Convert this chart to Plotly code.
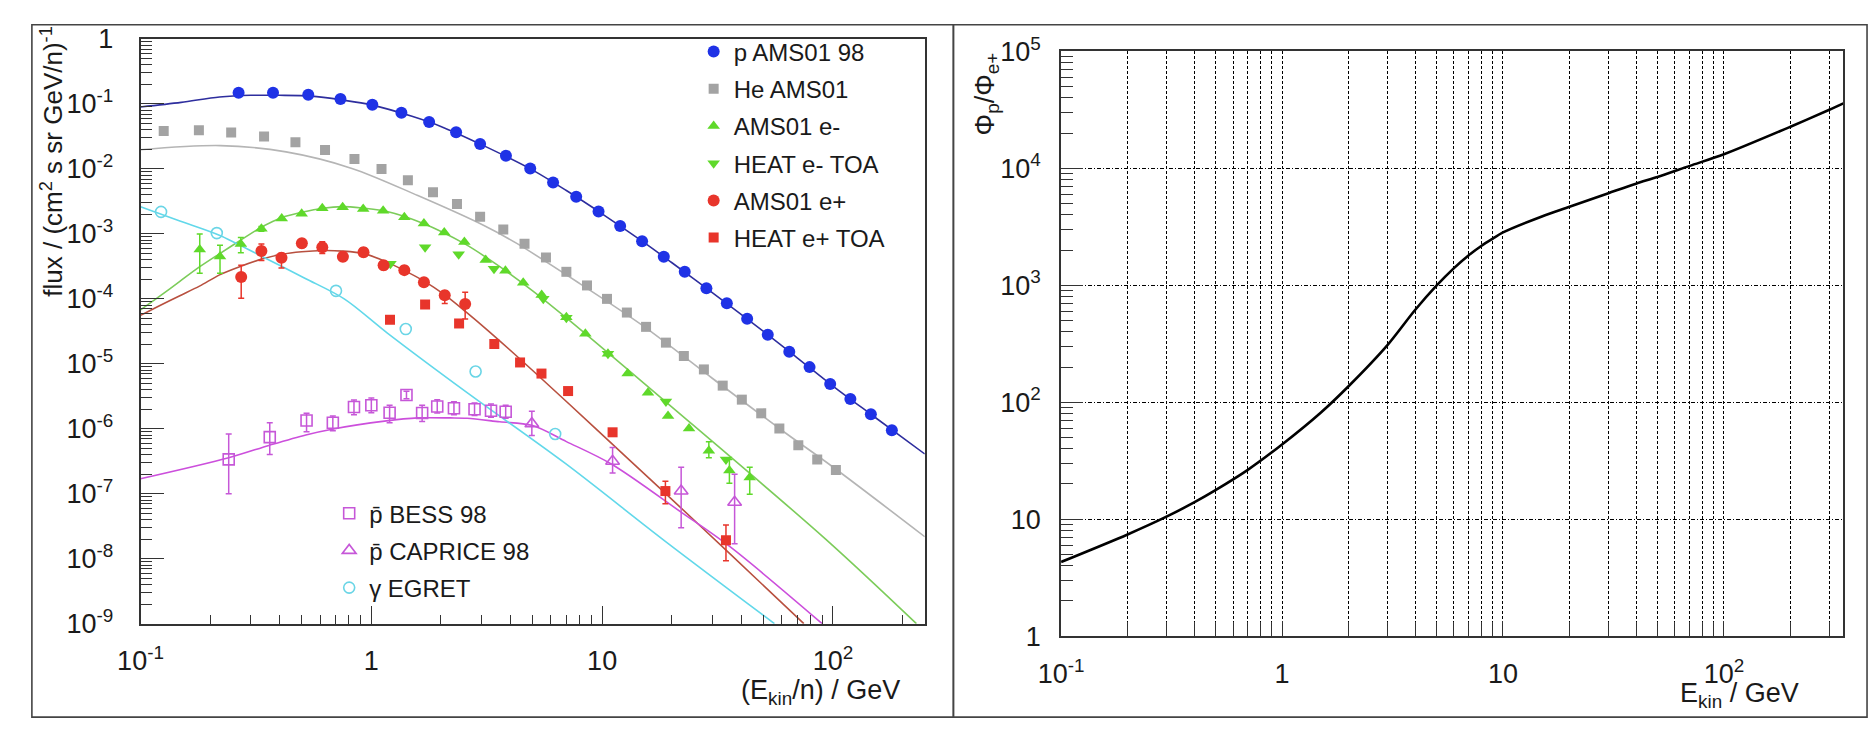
import math
import plotly.graph_objects as go

W, H = 1870, 735
FONT = "Liberation Sans, Arial, sans-serif"

# ---------------- left panel data ----------------
p_x = [0.266, 0.375, 0.533, 0.735, 1.01, 1.35, 1.78, 2.33, 2.96, 3.83, 4.88, 6.13, 7.72, 9.65, 11.97,
       14.9, 18.5, 22.8, 28.3, 34.7, 42.5, 52.2, 64.7, 79.2, 97.3, 119, 146, 180]
p_y = [0.149, 0.149, 0.139, 0.119, 0.097, 0.0732, 0.0528, 0.0367, 0.0243, 0.0160, 0.01016, 0.0062,
       0.00374, 0.00222, 0.00132, 7.7e-4, 4.44e-4, 2.61e-4, 1.46e-4, 8.55e-5, 4.93e-5, 2.8e-5,
       1.53e-5, 8.9e-6, 4.89e-6, 2.88e-6, 1.68e-6, 9.5e-7]
p_fit_x = [0.1, 0.15, 0.22, 0.3, 0.4, 0.55, 0.75, 1.0, 1.5, 2.0, 3.0, 5.0, 7.0, 10, 15, 20, 30, 50, 70, 100, 150, 250]
p_fit_y = [0.090, 0.106, 0.128, 0.136, 0.136, 0.132, 0.115, 0.097, 0.0646, 0.0452, 0.0237, 0.0096, 4.65e-3,
           2.04e-3, 7.6e-4, 3.63e-4, 1.25e-4, 3.16e-5, 1.24e-5, 4.55e-6, 1.56e-6, 4.1e-7]

he_x = [0.126, 0.179, 0.247, 0.343, 0.469, 0.630, 0.845, 1.107, 1.44, 1.85, 2.35, 2.96, 3.73, 4.61, 5.71,
        7.0, 8.6, 10.5, 12.8, 15.5, 18.9, 22.6, 27.6, 33.3, 40.3, 48.9, 58.6, 70.8, 85.5, 103]
he_y = [0.0385, 0.0394, 0.0364, 0.0315, 0.0257, 0.0196, 0.01426, 0.00997, 0.00671, 0.00437, 0.00288,
        0.00184, 0.00117, 7.03e-4, 4.34e-4, 2.61e-4, 1.61e-4, 1.0e-4, 6.16e-5, 3.71e-5, 2.12e-5, 1.32e-5,
        8.2e-6, 4.62e-6, 2.81e-6, 1.73e-6, 1.01e-6, 5.6e-7, 3.38e-7, 2.33e-7]
he_fit_x = [0.1, 0.222, 0.427, 0.824, 1.59, 3.06, 4.25, 8, 15, 30, 60, 100, 250]
he_fit_y = [0.0198, 0.0229, 0.0183, 0.0102, 3.9e-3, 1.36e-3, 7.2e-4, 1.72e-4, 3.87e-5, 6.0e-6, 9.5e-7,
            2.58e-7, 2.18e-8]

em_x = [0.1805, 0.221, 0.272, 0.334, 0.409, 0.499, 0.613, 0.751, 0.922, 1.125, 1.39, 1.69, 2.07, 2.53,
        3.13, 3.81, 4.55, 5.47, 7.0, 8.46, 10.6, 12.9, 15.8, 19.3, 23.8, 29.0, 35.6, 43.6]
em_y = [5.74e-4, 4.49e-4, 6.97e-4, 1.2e-3, 1.73e-3, 2.05e-3, 2.49e-3, 2.58e-3, 2.41e-3, 2.27e-3, 1.81e-3,
        1.45e-3, 1.05e-3, 7.53e-4, 3.96e-4, 2.7e-4, 1.77e-4, 1.15e-4, 5.21e-5, 2.9e-5, 1.43e-5, 7.08e-6,
        3.6e-6, 1.58e-6, 1.01e-6, 4.58e-7, 2.28e-7, 1.78e-7]
em_hi = [1.0e-3, 6.67e-4, 8.83e-4, 1.3e-3, 1.73e-3, 2.05e-3, 2.49e-3, 2.58e-3, 2.41e-3, 2.27e-3, 1.81e-3,
         1.45e-3, 1.05e-3, 7.53e-4, 3.96e-4, 2.7e-4, 1.77e-4, 1.15e-4, 5.21e-5, 2.9e-5, 1.43e-5, 7.08e-6,
         3.6e-6, 1.58e-6, 1.01e-6, 6.3e-7, 3.38e-7, 2.55e-7]
em_lo = [2.47e-4, 2.47e-4, 5.14e-4, 1.1e-3, 1.73e-3, 2.05e-3, 2.49e-3, 2.58e-3, 2.41e-3, 2.27e-3, 1.81e-3,
         1.45e-3, 1.05e-3, 7.53e-4, 3.96e-4, 2.7e-4, 1.77e-4, 1.15e-4, 5.21e-5, 2.9e-5, 1.43e-5, 7.08e-6,
         3.6e-6, 1.58e-6, 1.01e-6, 3.58e-7, 1.45e-7, 9.8e-8]
em_fit_x = [0.1, 0.122, 0.148, 0.18, 0.218, 0.266, 0.334, 0.408, 0.499, 0.616, 0.75, 0.92, 1.17, 1.68,
            2.53, 3.5, 5.0, 7.0, 18.6, 92.7, 230]
em_fit_y = [6.76e-5, 1.12e-4, 1.86e-4, 3.1e-4, 4.85e-4, 7.63e-4, 1.27e-3, 1.78e-3, 2.15e-3, 2.49e-3,
            2.63e-3, 2.49e-3, 2.22e-3, 1.45e-3, 7.08e-4, 3.36e-4, 1.33e-4, 5.09e-5, 2.71e-6, 2.02e-8, 1e-9]

heat_em_x = [1.21, 1.71, 2.39, 3.40, 5.56, 7.0, 10.6, 18.9, 34.4]
heat_em_y = [3.46e-4, 6.22e-4, 4.85e-4, 2.92e-4, 1.0e-4, 5.1e-5, 1.43e-5, 2.63e-6, 3.38e-7]

ep_x = [0.273, 0.334, 0.408, 0.500, 0.613, 0.753, 0.925, 1.13, 1.39, 1.69, 2.08, 2.55]
ep_y = [2.18e-4, 5.44e-4, 4.3e-4, 7.21e-4, 6.25e-4, 4.46e-4, 5.22e-4, 3.28e-4, 2.77e-4, 1.8e-4, 1.14e-4, 8.36e-5]
ep_hi = [3.28e-4, 6.97e-4, 5.05e-4, 8.3e-4, 7.6e-4, 5.3e-4, 6.1e-4, 3.8e-4, 3.2e-4, 2.05e-4, 1.33e-4, 1.27e-4]
ep_lo = [1.02e-4, 3.88e-4, 2.99e-4, 6.2e-4, 5.0e-4, 3.8e-4, 4.5e-4, 2.8e-4, 2.4e-4, 1.58e-4, 8.5e-5, 4.9e-5]
ep_fit_x = [0.1, 0.122, 0.148, 0.18, 0.22, 0.267, 0.336, 0.409, 0.499, 0.617, 0.751, 0.93, 1.13, 1.40,
            1.70, 2.08, 2.57, 3.23, 5.0, 9.25, 18.6, 34.7, 74.8]
ep_fit_y = [5.57e-5, 8.0e-5, 1.12e-4, 1.57e-4, 2.34e-4, 3.1e-4, 4.1e-4, 4.85e-4, 5.31e-4, 5.55e-4, 5.44e-4,
            4.97e-4, 3.88e-4, 2.7e-4, 1.86e-4, 1.15e-4, 6.3e-5, 3.16e-5, 7.9e-6, 1.05e-6, 1.05e-7, 1.32e-8, 1e-9]

heat_ep_x = [1.205, 1.71, 2.40, 3.41, 4.41, 5.46, 7.12, 11.1, 18.8, 34.4]
heat_ep_y = [4.77e-5, 8.19e-5, 4.18e-5, 2.02e-5, 1.05e-5, 7.08e-6, 3.81e-6, 8.83e-7, 1.1e-7, 1.92e-8]
heat_ep_hi = [4.77e-5, 8.19e-5, 4.18e-5, 2.02e-5, 1.05e-5, 7.08e-6, 3.81e-6, 8.83e-7, 1.56e-7, 3.3e-8]
heat_ep_lo = [4.77e-5, 8.19e-5, 4.18e-5, 2.02e-5, 1.05e-5, 7.08e-6, 3.81e-6, 8.83e-7, 7.0e-8, 9.3e-9]

bess_x = [0.241, 0.363, 0.524, 0.681, 0.841, 1.0, 1.20, 1.42, 1.66, 1.93, 2.28, 2.80, 3.30, 3.82]
bess_y = [3.38e-7, 7.45e-7, 1.34e-6, 1.24e-6, 2.17e-6, 2.3e-6, 1.77e-6, 3.31e-6, 1.75e-6, 2.2e-6, 2.07e-6,
          2.0e-6, 1.9e-6, 1.83e-6]
bess_hi = [8.33e-7, 1.24e-6, 1.73e-6, 1.58e-6, 2.78e-6, 2.98e-6, 2.3e-6, 3.8e-6, 2.3e-6, 2.8e-6, 2.6e-6,
           2.5e-6, 2.4e-6, 2.3e-6]
bess_lo = [1.0e-7, 4.03e-7, 9.0e-7, 9.3e-7, 1.64e-6, 1.77e-6, 1.24e-6, 2.9e-6, 1.3e-6, 1.75e-6, 1.65e-6,
           1.6e-6, 1.5e-6, 1.45e-6]

cap_x = [4.96, 11.1, 22.0, 37.5]
cap_y = [1.2e-6, 3.16e-7, 1.1e-7, 7.4e-8]
cap_hi = [1.86e-6, 5.14e-7, 2.55e-7, 2.0e-7]
cap_lo = [7.87e-7, 2.08e-7, 3.0e-8, 1.7e-8]
pb_fit_x = [0.1, 0.241, 0.363, 0.52, 0.676, 1.14, 1.59, 2.2, 2.6, 3.6, 4.96, 7.0, 11.0, 21.9, 35.8, 89.8]
pb_fit_y = [1.7e-7, 3.58e-7, 5.6e-7, 8.05e-7, 9.86e-7, 1.31e-6, 1.47e-6, 1.47e-6, 1.45e-6, 1.28e-6,
            1.13e-6, 6.35e-7, 2.85e-7, 5.26e-8, 1.53e-8, 1e-9]

g_x = [0.1227, 0.214, 0.703, 1.41, 2.83, 6.26]
g_y = [2.18e-3, 1.03e-3, 1.33e-4, 3.43e-5, 7.63e-6, 8.33e-7]
g_fit_x = [0.1, 0.148, 0.2195, 0.336, 0.515, 0.763, 1.17, 2.6, 6.95, 18.6, 55.8]
g_fit_y = [2.63e-3, 1.58e-3, 9.53e-4, 4.49e-4, 2.08e-4, 1.0e-4, 3.0e-5, 3.6e-6, 2.9e-7, 1.9e-8, 1e-9]

# ---------------- right panel data ----------------
ratio_x = [0.1, 0.2, 0.3, 0.4, 0.5, 0.7, 1.0, 1.5, 2.0, 3.0, 4.0, 5.0, 6.0, 7.0, 8.0, 9.0, 10,
           15, 20, 30, 40, 50, 70, 100, 200, 300, 347]
ratio_y = [4.3, 7.4, 10.5, 13.9, 17.7, 26.4, 43.5, 81.7, 137, 308, 615, 993, 1403, 1808, 2180, 2510, 2830,
           3880, 4690, 6130, 7400, 8430, 10500, 13200, 22700, 31700, 36000]

# tick labels
left_x_ticks = [0.1, 1, 10, 100]
left_x_text = ["10<sup>-1</sup>", "1", "10", "10<sup>2</sup>"]
left_y_ticks = [10.0 ** e for e in range(-9, 1)]
left_y_text = ["10<sup>%d</sup>" % e for e in range(-9, 0)] + ["1"]
right_x_ticks = [0.1, 1, 10, 100]
right_x_text = ["10<sup>-1</sup>", "1", "10", "10<sup>2</sup>"]
right_y_ticks = [1, 10, 100, 1e3, 1e4, 1e5]
right_y_text = ["1", "10", "10<sup>2</sup>", "10<sup>3</sup>", "10<sup>4</sup>", "10<sup>5</sup>"]


def minors(e0, e1):
    return [k * 10.0 ** e for e in range(e0, e1) for k in range(2, 10)]


def pxx(v):
    return v / W


def pyy(v):
    return 1 - v / H


fig = go.Figure()


def fit(x, y, color, width=1.6):
    fig.add_trace(go.Scatter(x=x, y=y, mode="lines", line=dict(color=color, width=width, shape="spline", smoothing=0.9),
                             showlegend=False, hoverinfo="skip", xaxis="x", yaxis="y"))


def pts(x, y, name, symbol, color, size, hi=None, lo=None, legend="legend", openm=False):
    err = None
    if hi is not None:
        err = dict(type="data", symmetric=False,
                   array=[h - v for h, v in zip(hi, y)],
                   arrayminus=[v - l for v, l in zip(y, lo)],
                   color=color, thickness=1.5, width=3)
    fig.add_trace(go.Scatter(x=x, y=y, mode="markers", name=name,
                             marker=dict(symbol=symbol, color=color, size=size,
                                         line=dict(width=1.6 if openm else 0, color=color)),
                             error_y=err, xaxis="x", yaxis="y", legend=legend, legendgroup=name))


C_P, C_PL = "#1f32e6", "#2e2e9e"
C_HE, C_HEL = "#a3a3a3", "#b5b5b5"
C_E, C_EL = "#5fd92a", "#7ccc5a"
C_EP, C_EPL = "#e8352b", "#b8503f"
C_PB, C_PBL = "#c657d8", "#cc4fdc"
C_G, C_GL = "#6ad5e6", "#62d8ea"

fit(p_fit_x, p_fit_y, C_PL)
fit(he_fit_x, he_fit_y, C_HEL)
fit(em_fit_x, em_fit_y, C_EL)
fit(ep_fit_x, ep_fit_y, C_EPL)
fit(pb_fit_x, pb_fit_y, C_PBL)
fit(g_fit_x, g_fit_y, C_GL)

pts(p_x, p_y, "p AMS01 98", "circle", C_P, 12)
pts(he_x, he_y, "He AMS01", "square", C_HE, 10)
pts(em_x, em_y, "AMS01 e-", "triangle-up", C_E, 11, em_hi, em_lo)
pts(heat_em_x, heat_em_y, "HEAT e- TOA", "triangle-down", C_E, 11)
pts(ep_x, ep_y, "AMS01 e+", "circle", C_EP, 12, ep_hi, ep_lo)
pts(heat_ep_x, heat_ep_y, "HEAT e+ TOA", "square", C_EP, 10, heat_ep_hi, heat_ep_lo)
pts(bess_x, bess_y, "p\u0304 BESS 98", "square-open", C_PB, 11, bess_hi, bess_lo, legend="legend2", openm=True)
pts(cap_x, cap_y, "p\u0304 CAPRICE 98", "triangle-up-open", C_PB, 12, cap_hi, cap_lo, legend="legend2", openm=True)
pts(g_x, g_y, "\u03b3 EGRET", "circle-open", C_G, 11, legend="legend2", openm=True)

fig.add_trace(go.Scatter(x=ratio_x, y=ratio_y, mode="lines", line=dict(color="black", width=2.6, shape="spline", smoothing=0.8),
                         showlegend=False, xaxis="x2", yaxis="y2"))

tickfont = dict(family=FONT, size=27, color="#1a1a1a")
axis_common = dict(type="log", showline=True, linecolor="#333", linewidth=1.6, mirror=True, ticks="inside",
                   tickwidth=1.4, tickcolor="#333", zeroline=False, tickfont=tickfont, tickmode="array")
GRID_DASH = "3px,2px"

fig.update_layout(
    width=W, height=H, margin=dict(l=0, r=0, t=0, b=0), paper_bgcolor="white", plot_bgcolor="white",
    font=dict(family=FONT, size=24, color="#1a1a1a"),
    xaxis=dict(axis_common, domain=[pxx(119), pxx(913)], range=[-1, math.log10(250)], anchor="y",
               tickvals=left_x_ticks, ticktext=left_x_text, ticklen=18, showgrid=False, ticklabelstandoff=12,
               minor=dict(tickvals=minors(-1, 3), ticklen=9, ticks="inside", tickwidth=1.4, tickcolor="#333", showgrid=False)),
    yaxis=dict(axis_common, domain=[pyy(634), pyy(21)], range=[-9, 0], anchor="x",
               tickvals=left_y_ticks, ticktext=left_y_text, ticklen=24, showgrid=False, ticklabelstandoff=20,
               minor=dict(tickvals=minors(-9, 0), ticklen=12, ticks="inside", tickwidth=1.4, tickcolor="#333", showgrid=False)),
    xaxis2=dict(axis_common, domain=[pxx(1051), pxx(1843)], range=[-1, math.log10(347)], anchor="y2",
                tickvals=right_x_ticks, ticktext=right_x_text, ticklen=15, ticklabelstandoff=13,
                showgrid=True, gridcolor="black", gridwidth=1, griddash=GRID_DASH,
                minor=dict(tickvals=minors(-1, 3), ticklen=14, ticks="inside", tickwidth=1.4, tickcolor="#333",
                           showgrid=True, gridcolor="black", gridwidth=1, griddash=GRID_DASH)),
    yaxis2=dict(axis_common, domain=[pyy(647), pyy(34)], range=[0, 5], anchor="x2",
                tickvals=right_y_ticks, ticktext=right_y_text, ticklen=22, ticklabelstandoff=13,
                showgrid=True, gridcolor="black", gridwidth=1, griddash="4px,2px,1px,2px",
                minor=dict(tickvals=minors(0, 5), ticklen=12, ticks="inside", tickwidth=1.4, tickcolor="#333", showgrid=False)),
    legend=dict(x=pxx(679), y=pyy(11), xanchor="left", yanchor="top", bgcolor="rgba(0,0,0,0)",
                font=dict(family=FONT, size=24, color="#1a1a1a"), tracegroupgap=3, itemclick=False),
    legend2=dict(x=pxx(310), y=pyy(495), xanchor="left", yanchor="top", bgcolor="rgba(0,0,0,0)",
                 font=dict(family=FONT, size=24, color="#1a1a1a"), tracegroupgap=3, itemclick=False),
    shapes=[
        dict(type="rect", xref="paper", yref="paper", x0=pxx(9), x1=pxx(942), y0=pyy(732), y1=pyy(6),
             line=dict(color="#444", width=1.6)),
        dict(type="rect", xref="paper", yref="paper", x0=pxx(942), x1=pxx(1867), y0=pyy(732), y1=pyy(6),
             line=dict(color="#444", width=1.6)),
    ],
    annotations=[
        dict(text="flux / (cm<sup>2</sup> s sr GeV/n)<sup>-1</sup>", xref="paper", yref="paper",
             x=pxx(29), y=pyy(150), xanchor="center", yanchor="middle", textangle=-90, showarrow=False,
             font=dict(family=FONT, size=26)),
        dict(text="(E<sub>kin</sub>/n) / GeV", xref="paper", yref="paper", x=pxx(890), y=pyy(706),
             xanchor="right", yanchor="middle", showarrow=False, font=dict(family=FONT, size=27)),
        dict(text="\u03a6<sub>p</sub>/\u03a6<sub>e+</sub>", xref="paper", yref="paper",
             x=pxx(976), y=pyy(78), xanchor="center", yanchor="middle", textangle=-90, showarrow=False,
             font=dict(family=FONT, size=27)),
        dict(text="E<sub>kin</sub> / GeV", xref="paper", yref="paper", x=pxx(1800), y=pyy(709),
             xanchor="right", yanchor="middle", showarrow=False, font=dict(family=FONT, size=27)),
    ],
)

fig.write_html("out.html")
